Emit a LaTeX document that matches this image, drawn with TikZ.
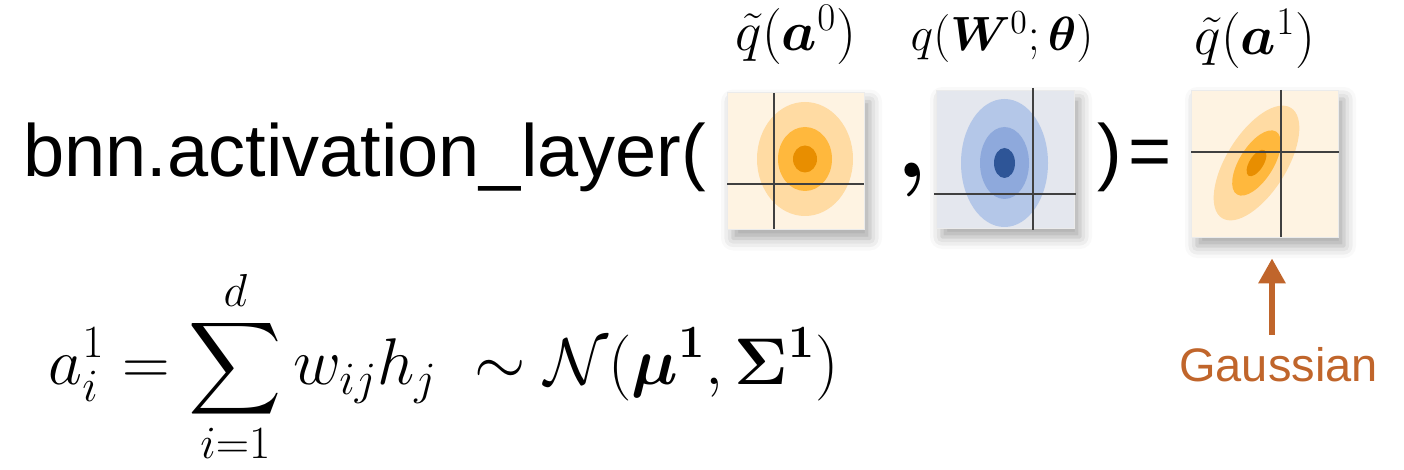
\documentclass[tikz,border=0pt]{standalone}
\usepackage{fix-cm}
\usepackage[no-math]{fontspec}
\newfontfamily\helv{Liberation Sans}
\usepackage{amsmath}
\usepackage{bm}
\usepackage{graphicx}
\usepackage{xcolor}
\usepackage{tikz}
\usetikzlibrary{positioning, arrows.meta, shadows.blur}

\definecolor{orangebg}{HTML}{FEF3E2}
\definecolor{orangelight}{HTML}{FFDBA3}
\definecolor{orangemid}{HTML}{FFB83D}
\definecolor{orangedark}{HTML}{E88E00}
\definecolor{bluebg}{HTML}{E4E7EE}
\definecolor{bluelight}{HTML}{B4C7E8}
\definecolor{bluemid}{HTML}{8EA9DC}
\definecolor{bluedark}{HTML}{2E5597}
\definecolor{gaussorange}{HTML}{C0652B}

\newcommand{\bigsum}{\mathop{\vcenter{\hbox{\scalebox{1.3}{$\displaystyle\sum$}}}}\limits}

\begin{document}
\begin{tikzpicture}[x=0.5pt, y=-0.5pt,
  bigtext/.style={inner sep=0pt, font=\helv\fontsize{37}{44}\selectfont},
  lbl/.style={inner sep=0pt, font=\fontsize{#1}{30}\selectfont},
  plotbox/.style={inner sep=0pt, minimum size=#1, draw=black!8, line width=0.4pt,
    blur shadow={shadow xshift=3pt, shadow yshift=-4.5pt, shadow blur radius=6pt, shadow opacity=35}},
  axisline/.style={draw=black!75, line width=0.6pt},
  gaussarrow/.style={draw=gaussorange, line width=3pt, -{Triangle[width=13pt, length=12.5pt]}}]
  \useasboundingbox (0,0) rectangle (1404,470);

  % call line
  \node[bigtext, anchor=base west] (call) at (23,177) {bnn.activation\_layer(};
  \node[plotbox=68.5pt, fill=orangebg] (qa0) at (795.5,161) {};
  \node[anchor=base west, inner sep=0pt, font=\fontsize{50}{56}\selectfont\bfseries] (comma) at (896,178) {,};
  \node[plotbox=69pt, fill=bluebg] (qw0) at (1005,159) {};
  \node[bigtext, anchor=base west] (close) at (1097,177) {)\kern3pt=};
  \node[plotbox=73.5pt, fill=orangebg] (qa1) at (1264.5,163.5) {};

  % densities
  \fill[orangelight] (805,159) ellipse [x radius=48, y radius=57];
  \fill[orangemid] (805,159) ellipse [x radius=27, y radius=32];
  \fill[orangedark] (805,159) ellipse [x radius=12, y radius=13.5];
  \fill[bluelight] (1004.5,163) ellipse [x radius=43.5, y radius=64];
  \fill[bluemid] (1004.5,163) ellipse [x radius=24.5, y radius=36];
  \fill[bluedark] (1004.5,163) ellipse [x radius=10.5, y radius=15];
  \begin{scope}[shift={(1256.5,163)}, rotate=58]
    \fill[orangelight] (0,0) ellipse [x radius=65, y radius=30];
    \fill[orangemid] (0,0) ellipse [x radius=37, y radius=17];
    \fill[orangedark] (0,0) ellipse [x radius=15, y radius=7];
  \end{scope}

  % axes
  \draw[axisline] (774,93) -- (774,229);
  \draw[axisline] (727,184) -- (864,184);
  \draw[axisline] (1033,88) -- (1033,230);
  \draw[axisline] (934,194) -- (1076,194);
  \draw[axisline] (1281,90) -- (1281,237);
  \draw[axisline] (1191,152) -- (1339,152);

  % labels
  \node[lbl=28, anchor=base] (lqa0) at (796,51) {$\tilde{q}(\bm{a}^0)$};
  \node[lbl=24, anchor=base] (lqw0) at (1002,51) {$q(\bm{W}^0;\bm{\theta})$};
  \node[lbl=28, anchor=base] (lqa1) at (1255,55) {$\tilde{q}(\bm{a}^1)$};

  \node[anchor=base, inner sep=0pt, text=gaussorange, font=\helv\fontsize{23.5}{28}\selectfont] (gauss) at (1278.5,382) {Gaussian};
  \draw[gaussarrow] ([xshift=-3.25pt, yshift=6.5pt]gauss.north) -- ([xshift=3.75pt, yshift=-10.5pt]qa1.south);

  % sum
  \node[anchor=base west, inner sep=0pt, font=\fontsize{33}{40}\selectfont] (sumeq) at (48,385)
    {$\displaystyle a_i^1 = \bigsum_{i=1}^{d} w_{ij} h_j\ \sim \mathcal{N}(\bm{\mu}^{\mathbf{1}}, \bm{\Sigma}^{\mathbf{1}})$};
\end{tikzpicture}
\end{document}
